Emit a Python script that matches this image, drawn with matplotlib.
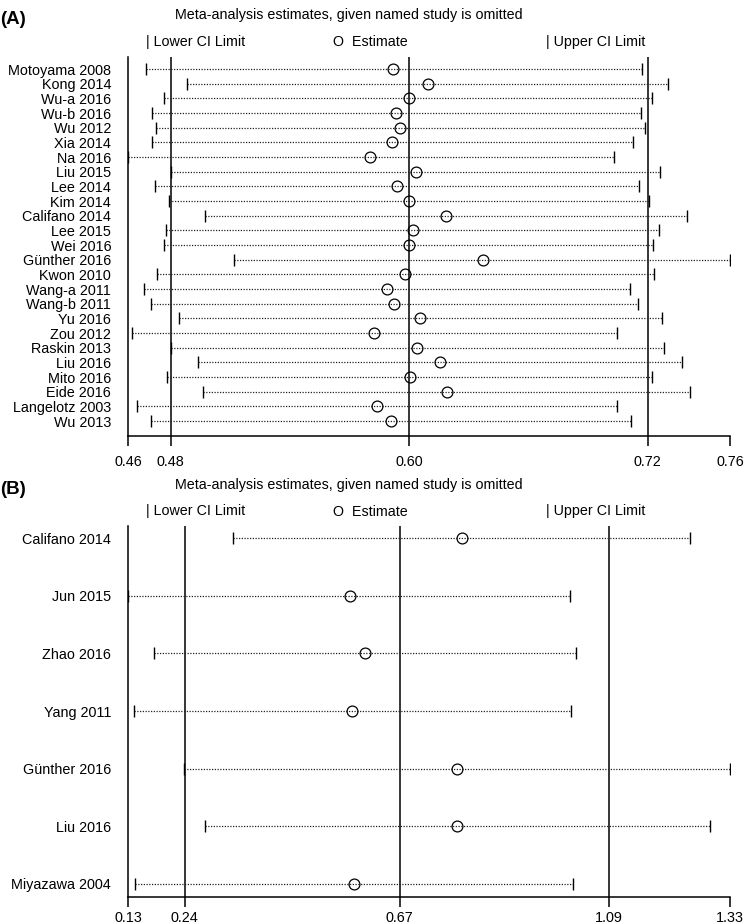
import matplotlib
matplotlib.use('Agg')
import matplotlib.pyplot as plt

"""Анализ чувствительности: оценки без каждого исследования (A и B)"""

studies_a = ['Motoyama 2008', 'Kong 2014', 'Wu-a 2016', 'Wu-b 2016', 'Wu 2012', 'Xia 2014', 'Na 2016',
             'Liu 2015', 'Lee 2014', 'Kim 2014', 'Califano 2014', 'Lee 2015', 'Wei 2016', 'Günther 2016',
             'Kwon 2010', 'Wang-a 2011', 'Wang-b 2011', 'Yu 2016', 'Zou 2012', 'Raskin 2013', 'Liu 2016',
             'Mito 2016', 'Eide 2016', 'Langelotz 2003', 'Wu 2013']
lower_a = [0.4676, 0.4883, 0.4767, 0.4703, 0.4725, 0.4703, 0.4586, 0.4800, 0.4722, 0.4789, 0.4970, 0.4777,
           0.4767, 0.5119, 0.4730, 0.4665, 0.4700, 0.4841, 0.4606, 0.4800, 0.4936, 0.4780, 0.4962, 0.4629, 0.4700]
est_a = [0.5919, 0.6094, 0.5997, 0.5933, 0.5955, 0.5914, 0.5802, 0.6032, 0.5940, 0.5998, 0.6183, 0.6019,
         0.5997, 0.6371, 0.5980, 0.5889, 0.5924, 0.6055, 0.5822, 0.6039, 0.6155, 0.6004, 0.6188, 0.5836, 0.5906]
upper_a = [0.7170, 0.7304, 0.7220, 0.7165, 0.7186, 0.7127, 0.7029, 0.7260, 0.7158, 0.7205, 0.7396, 0.7255,
           0.7228, 0.7616, 0.7232, 0.7112, 0.7153, 0.7273, 0.7044, 0.7284, 0.7373, 0.7220, 0.7414, 0.7044, 0.7117]
overall_a = [0.48, 0.60, 0.72]

studies_b = ['Califano 2014', 'Jun 2015', 'Zhao 2016', 'Yang 2011', 'Günther 2016', 'Liu 2016', 'Miyazawa 2004']
lower_b = [0.3367, 0.1271, 0.1791, 0.1379, 0.2380, 0.2806, 0.1411]
est_b = [0.7952, 0.5710, 0.6016, 0.5743, 0.7852, 0.7845, 0.5795]
upper_b = [1.2510, 1.0120, 1.0234, 1.0140, 1.3316, 1.2923, 1.0174]
overall_b = [0.24, 0.67, 1.09]

TITLE = 'Meta-analysis estimates, given named study is omitted'

W, H = 747, 924
plt.rcParams['font.family'] = ['Liberation Sans', 'DejaVu Sans']
fig = plt.figure(figsize=(W / 100, H / 100), dpi=100)


def px_text(x, y, s, **kw):
    """текст в пиксельных координатах (от верхнего левого угла)"""
    fig.text(x / W, 1 - y / H, s, **kw)


def influence_panel(rect_px, studies, lower, est, upper, overall, pad_top, pad_bottom, label_pad):
    left, top, right, bottom = rect_px
    ax = fig.add_axes([left / W, 1 - bottom / H, (right - left) / W, (bottom - top) / H])
    n = len(studies)
    rows = list(range(n))

    for i in rows:
        ax.plot([lower[i], upper[i]], [i, i], color='#222222', lw=0.9, ls=(0, (1, 1.2)), zorder=2)
    ax.plot(lower, rows, ls='none', marker='|', ms=8.5, mew=1.0, color='black', zorder=3)
    ax.plot(upper, rows, ls='none', marker='|', ms=8.5, mew=1.0, color='black', zorder=3)
    ax.plot(est, rows, ls='none', marker='o', ms=7.8, mfc='none', mec='black', mew=0.9, zorder=4)

    for v in overall:
        ax.axvline(v, color='black', lw=1.1, zorder=1)

    lo, hi = min(lower), max(upper)
    ax.set_xlim(lo, hi)
    ax.set_ylim(n - 1 + pad_bottom, -pad_top)

    ticks = [lo] + overall + [hi]
    ax.set_xticks(ticks)
    ax.set_xticklabels(['%.2f' % t for t in ticks], fontsize=10.4)
    ax.tick_params(axis='x', direction='out', length=7.5, width=1.1, pad=label_pad)

    ax.set_yticks(rows)
    ax.set_yticklabels(studies, fontsize=10.4)
    ax.tick_params(axis='y', length=0, pad=12.3)

    for side in ['top', 'right']:
        ax.spines[side].set_visible(False)
    for side in ['left', 'bottom']:
        ax.spines[side].set_linewidth(1.1)
    ax.patch.set_alpha(0)
    return ax


# (A)
influence_panel((128.3, 57, 730.3, 436), studies_a, lower_a, est_a, upper_a, overall_a, 0.82, 1.02, 6)
px_text(0, 20, '(A)', fontsize=13.5, fontweight='bold', va='center', ha='left')
px_text(349, 19.5, TITLE, fontsize=10.3, ha='center', va='baseline')
px_text(145.7, 45.7, '| Lower CI Limit', fontsize=10.3, ha='left', va='baseline')
px_text(333, 45.7, 'O  Estimate', fontsize=10.3, ha='left', va='baseline')
px_text(545.7, 45.7, '| Upper CI Limit', fontsize=10.3, ha='left', va='baseline')

# (B)
influence_panel((128.3, 526, 730.0, 896.7), studies_b, lower_b, est_b, upper_b, overall_b, 0.214, 0.226, 3)
px_text(0, 489, '(B)', fontsize=13.5, fontweight='bold', va='center', ha='left')
px_text(349, 489, TITLE, fontsize=10.3, ha='center', va='baseline')
px_text(145.7, 515.5, '| Lower CI Limit', fontsize=10.3, ha='left', va='baseline')
px_text(333, 515.5, 'O  Estimate', fontsize=10.3, ha='left', va='baseline')
px_text(545.7, 515.5, '| Upper CI Limit', fontsize=10.3, ha='left', va='baseline')

fig.savefig('out.png', dpi=100)
